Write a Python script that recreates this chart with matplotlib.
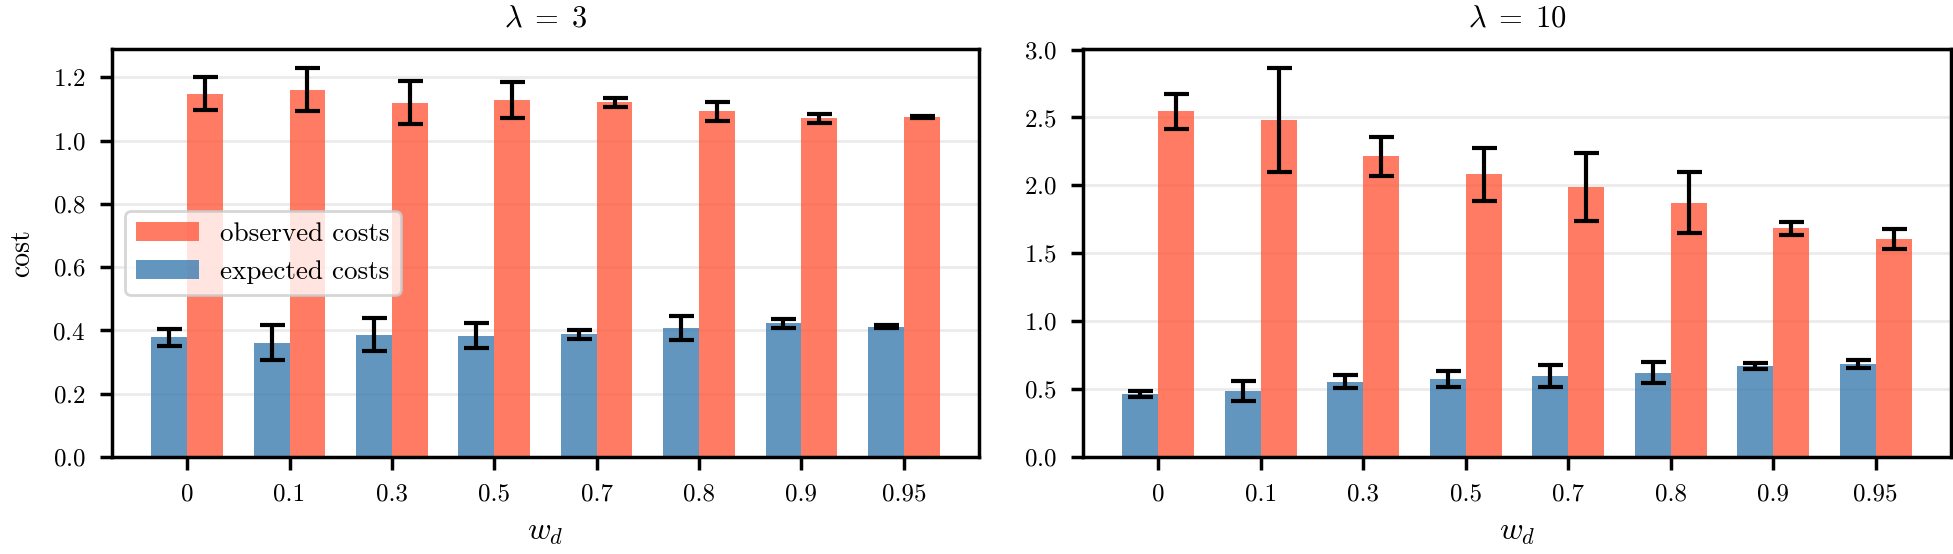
import matplotlib
matplotlib.use("Agg")
import matplotlib.pyplot as plt
import numpy as np

plt.rcParams['font.family'] = 'serif'
plt.rcParams['font.serif'] = ['cmr10']
plt.rcParams['mathtext.fontset'] = 'cm'
plt.rcParams['axes.unicode_minus'] = False
plt.rcParams['axes.formatter.use_mathtext'] = True

wd_labels = ["0", "0.1", "0.3", "0.5", "0.7", "0.8", "0.9", "0.95"]

# lambda = 3
exp3 = [0.378, 0.361, 0.386, 0.383, 0.388, 0.407, 0.423, 0.412]
exp3_err = [0.027, 0.055, 0.052, 0.039, 0.015, 0.038, 0.014, 0.005]
obs3 = [1.148, 1.160, 1.120, 1.128, 1.121, 1.092, 1.070, 1.075]
obs3_err = [0.053, 0.068, 0.069, 0.056, 0.015, 0.029, 0.015, 0.004]

# lambda = 10
exp10 = [0.465, 0.486, 0.556, 0.577, 0.597, 0.621, 0.670, 0.688]
exp10_err = [0.023, 0.071, 0.048, 0.058, 0.080, 0.078, 0.020, 0.030]
obs10 = [2.545, 2.481, 2.213, 2.081, 1.987, 1.873, 1.683, 1.603]
obs10_err = [0.130, 0.380, 0.145, 0.194, 0.250, 0.222, 0.048, 0.074]

blue = '#3c7cb0'
red = '#ff5a3c'
fs = 18

fig = plt.figure(figsize=(19.53, 5.54), dpi=100)
ax1 = fig.add_axes([0.0573, 0.175, 0.4440, 0.7366])
ax2 = fig.add_axes([0.5545, 0.175, 0.4445, 0.7366])

x = np.arange(len(wd_labels))
w = 0.35
err_kw = dict(ecolor='black', elinewidth=3, capsize=9, capthick=3)

for ax, exp, exp_err, obs, obs_err, title in [
        (ax1, exp3, exp3_err, obs3, obs3_err, r'$\lambda\;=\;3$'),
        (ax2, exp10, exp10_err, obs10, obs10_err, r'$\lambda\;=\;10$')]:
    ax.set_axisbelow(True)
    ax.grid(axis='y', color='#ebebeb', linewidth=2)
    ax.bar(x + w / 2, obs, w, yerr=obs_err, color=red, alpha=0.8,
           error_kw=err_kw, label='observed costs')
    ax.bar(x - w / 2, exp, w, yerr=exp_err, color=blue, alpha=0.8,
           error_kw=err_kw, label='expected costs')
    ax.set_xticks(x)
    ax.set_xticklabels(wd_labels)
    ax.set_title(title, fontsize=22, pad=16)
    ax.set_xlabel(r'$w_d$', fontsize=23, labelpad=10)
    ax.tick_params(axis='both', labelsize=fs, width=2.5, length=9, pad=10,
                   direction='out')
    for s in ax.spines.values():
        s.set_linewidth(2.5)
        s.set_color('black')

ax1.set_ylabel('cost', fontsize=20, labelpad=12)
leg = ax1.legend(loc='center left', fontsize=19.5, handlelength=2.3,
                 framealpha=0.8, edgecolor='#cccccc', bbox_to_anchor=(0.0, 0.5))
leg.get_frame().set_linewidth(2)

fig.savefig('out.png', dpi=100)
